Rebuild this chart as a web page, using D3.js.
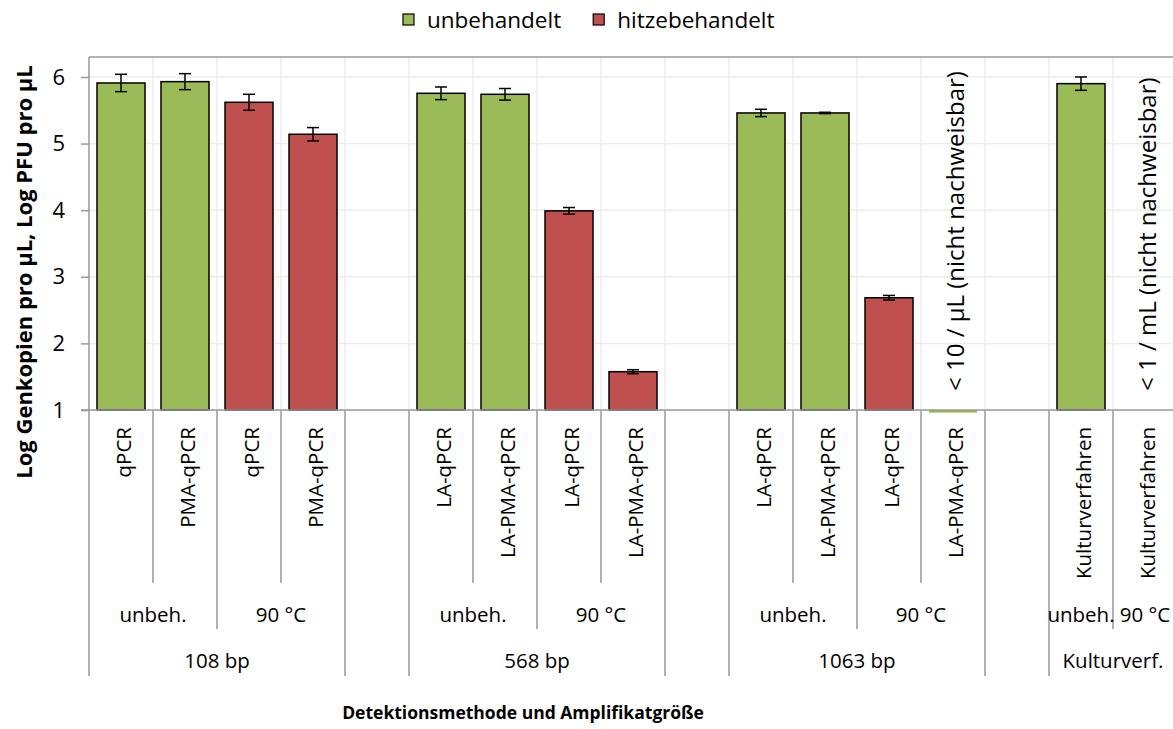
<!DOCTYPE html>
<html>
<head>
<meta charset="utf-8">
<script src="https://cdn.jsdelivr.net/npm/d3@7"></script>
<style>
  body { margin: 0; background: #fff; }
  svg { font-family: 'Open Sans', Lato, sans-serif; }
</style>
</head>
<body>
<div id="chart"></div>
<script>
// one entry per category slot (empty slots are the gaps between groups)
let methods = ['qPCR', 'PMA-qPCR', 'qPCR', 'PMA-qPCR', '',
  'LA-qPCR', 'LA-PMA-qPCR', 'LA-qPCR', 'LA-PMA-qPCR', '',
  'LA-qPCR', 'LA-PMA-qPCR', 'LA-qPCR', 'LA-PMA-qPCR', '',
  'Kulturverfahren', 'Kulturverfahren']
let treatments = ['unbeh.', 'unbeh.', '90 °C', '90 °C', '',
  'unbeh.', 'unbeh.', '90 °C', '90 °C', '',
  'unbeh.', 'unbeh.', '90 °C', '90 °C', '',
  'unbeh.', '90 °C']
let sizes = ['108 bp', '108 bp', '108 bp', '108 bp', '',
  '568 bp', '568 bp', '568 bp', '568 bp', '',
  '1063 bp', '1063 bp', '1063 bp', '1063 bp', '',
  'Kulturverf.', 'Kulturverf.']
let values = [5.91, 5.93, 5.62, 5.14, null,
  5.755, 5.74, 3.99, 1.575, null,
  5.46, 5.46, 2.685, 0.96, null,
  5.90, null]
let errors = [0.13, 0.12, 0.12, 0.10, null,
  0.095, 0.087, 0.05, 0.03, null,
  0.055, 0.01, 0.035, null, null,
  0.10, null]
let seriesOf = ['u', 'u', 'h', 'h', null,
  'u', 'u', 'h', 'h', null,
  'u', 'u', 'h', 'u', null,
  'u', null]
let legendItems = [{ key: 'u', label: 'unbehandelt' }, { key: 'h', label: 'hitzebehandelt' }]
let notes = [{ slot: 13, text: '< 10 / µL (nicht nachweisbar)' },
  { slot: 16, text: '< 1 / mL (nicht nachweisbar)' }]
let yTicks = [1, 2, 3, 4, 5, 6]

let width = 1173, height = 729
let colors = { u: '#9BBB59', h: '#C0504D' }

let plotLeft = 89, plotTop = 57, plotBottom = 410
let slotW = 64
let plotRight = plotLeft + slotW * methods.length

let svg = d3.select('#chart').append('svg')
  .attr('width', width).attr('height', height)

let x = d3.scaleBand().domain(d3.range(methods.length))
  .range([plotLeft, plotRight]).paddingInner(0.25).paddingOuter(0.125)
let y = d3.scaleLinear().domain([1, 6.3]).range([plotBottom, plotTop])

// gridlines
svg.append('g').selectAll('line')
  .data(yTicks.slice(1))
  .enter().append('line')
    .attr('x1', plotLeft).attr('x2', plotRight)
    .attr('y1', d => y(d)).attr('y2', d => y(d))
    .style('stroke', '#ececec').style('stroke-width', 1.5)

svg.append('g').selectAll('line')
  .data(d3.range(1, methods.length))
  .enter().append('line')
    .attr('x1', d => plotLeft + d * slotW).attr('x2', d => plotLeft + d * slotW)
    .attr('y1', plotTop).attr('y2', plotBottom)
    .style('stroke', '#ececec').style('stroke-width', 1.5)

// plot border top
svg.append('line')
  .attr('x1', plotLeft).attr('x2', plotRight).attr('y1', plotTop).attr('y2', plotTop)
  .style('stroke', '#999').style('stroke-width', 1.5)

// bars
let idx = d3.range(methods.length).filter(i => values[i] != null)
svg.append('g').selectAll('rect')
  .data(idx)
  .enter().append('rect')
    .attr('x', i => x(i))
    .attr('width', x.bandwidth())
    .attr('y', i => Math.min(y(values[i]), y(1)))
    .attr('height', i => Math.abs(y(1) - y(values[i])))
    .style('fill', i => colors[seriesOf[i]])
    .style('stroke', i => values[i] >= 1 ? '#000' : 'none')
    .style('stroke-width', 1.5)

// error bars
let errIdx = idx.filter(i => errors[i] != null)
let eb = svg.append('g').style('stroke', '#000').style('stroke-width', 1.5)
errIdx.forEach(i => {
  let cx = x(i) + x.bandwidth() / 2
  let y0 = y(values[i] - errors[i]), y1 = y(values[i] + errors[i])
  eb.append('line').attr('x1', cx).attr('x2', cx).attr('y1', y0).attr('y2', y1)
  eb.append('line').attr('x1', cx - 6).attr('x2', cx + 6).attr('y1', y0).attr('y2', y0)
  eb.append('line').attr('x1', cx - 6).attr('x2', cx + 6).attr('y1', y1).attr('y2', y1)
})

// y axis
let yAxis = svg.append('g')
  .attr('transform', 'translate(' + plotLeft + ',0)')
  .call(d3.axisLeft(y).tickValues(yTicks).tickSize(8).tickPadding(16).tickFormat(d3.format('d')))
yAxis.select('.domain').remove()
yAxis.selectAll('line').style('stroke', '#999').style('stroke-width', 1.5)
yAxis.selectAll('text').style('font-size', '22px').style('fill', '#000')
  .style('font-family', "'Open Sans', sans-serif")
svg.append('line')
  .attr('x1', plotLeft).attr('x2', plotLeft).attr('y1', plotTop).attr('y2', 676)
  .style('stroke', '#999').style('stroke-width', 1.5)

// x axis line
svg.append('line')
  .attr('x1', plotLeft - 8).attr('x2', plotRight).attr('y1', plotBottom).attr('y2', plotBottom)
  .style('stroke', '#999').style('stroke-width', 1.5)

// multi-level category separators
let sep = svg.append('g').style('stroke', '#999').style('stroke-width', 1.5)
for (let b = 1; b <= methods.length; b++) {
  let bx = plotLeft + b * slotW
  let len = 583
  if (b === methods.length || sizes[b] !== sizes[b - 1]) len = 676
  else if (treatments[b] !== treatments[b - 1]) len = 629
  sep.append('line').attr('x1', bx).attr('x2', bx).attr('y1', plotBottom).attr('y2', len)
}

// level 1 labels (rotated)
svg.append('g').selectAll('text')
  .data(d3.range(methods.length).filter(i => methods[i]))
  .enter().append('text')
    .attr('transform', i => 'translate(' + (x(i) + x.bandwidth() / 2 + 3) + ',427) rotate(-90)')
    .attr('dy', '0.35em')
    .style('text-anchor', 'end')
    .style('font-size', '20.5px')
    .text(i => methods[i])

// level 2 and 3 labels: spans of equal consecutive labels
function spans (labels) {
  let out = []
  labels.forEach((l, i) => {
    let last = out[out.length - 1]
    if (last && last.label === l) last.end = i
    else out.push({ label: l, start: i, end: i })
  })
  return out.filter(s => s.label)
}

svg.append('g').selectAll('text')
  .data(spans(treatments))
  .enter().append('text')
    .attr('x', s => plotLeft + (s.start + s.end + 1) / 2 * slotW)
    .attr('y', 615)
    .attr('dy', '0.35em')
    .style('text-anchor', 'middle')
    .style('font-size', '20.5px')
    .text(s => s.label)

svg.append('g').selectAll('text')
  .data(spans(sizes))
  .enter().append('text')
    .attr('x', s => plotLeft + (s.start + s.end + 1) / 2 * slotW)
    .attr('y', 661)
    .attr('dy', '0.35em')
    .style('text-anchor', 'middle')
    .style('font-size', '20.5px')
    .text(s => s.label)

// notes for not detectable values
svg.append('g').selectAll('text')
  .data(notes)
  .enter().append('text')
    .attr('transform', n => 'translate(' + (x(n.slot) + x.bandwidth() / 2 + 3) + ',391) rotate(-90)')
    .attr('dy', '0.35em')
    .style('font-size', '24px')
    .text(n => n.text)

// axis titles
svg.append('text')
  .attr('transform', 'translate(24,272) rotate(-90)')
  .attr('dy', '0.35em')
  .style('text-anchor', 'middle')
  .style('font-size', '22px').style('font-weight', 'bold')
  .text('Log Genkopien pro µL, Log PFU pro µL')

svg.append('text')
  .attr('x', 523).attr('y', 713)
  .attr('dy', '0.35em')
  .style('text-anchor', 'middle')
  .style('font-size', '17.5px').style('font-weight', 'bold')
  .text('Detektionsmethode und Amplifikatgröße')

// legend
let lg = svg.append('g')
let lx = 403
legendItems.forEach(item => {
  lg.append('rect').attr('x', lx).attr('y', 14).attr('width', 11).attr('height', 11)
    .style('fill', colors[item.key]).style('stroke', '#000').style('stroke-width', 1.2)
  let t = lg.append('text').attr('x', lx + 24).attr('y', 20).attr('dy', '0.35em')
    .style('font-size', '22.5px').text(item.label)
  lx += 24 + t.node().getComputedTextLength() + 32
})
</script>
</body>
</html>
